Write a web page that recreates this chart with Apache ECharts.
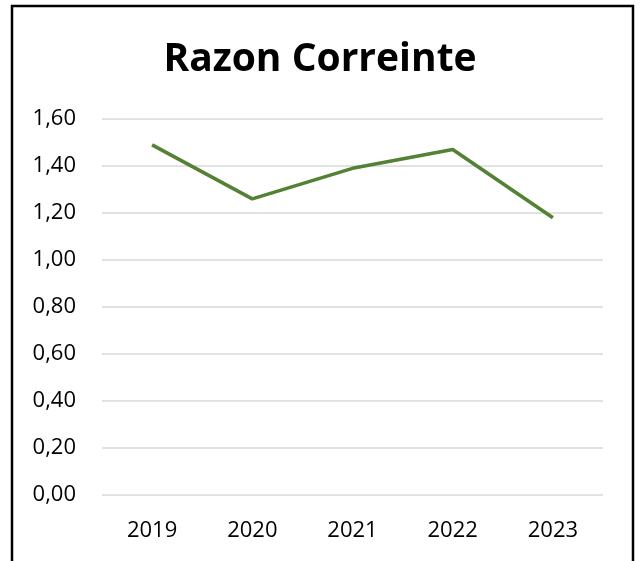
<!DOCTYPE html>
<html>
<head>
<meta charset="utf-8">
<script src="https://cdn.jsdelivr.net/npm/echarts@6/dist/echarts.min.js"></script>
<style>
html,body{margin:0;padding:0;background:#fff;}
#chart{width:640px;height:561px;}
</style>
</head>
<body>
<div id="chart"></div>
<script>
const titleText = "Razon Correinte";
const categories = ["2019", "2020", "2021", "2022", "2023"];
const values = [1.49, 1.26, 1.39, 1.47, 1.18];
const yMin = 0, yMax = 1.6, yStep = 0.2;

const chart = echarts.init(document.getElementById('chart'), null, {renderer: 'canvas'});
const font = "'Open Sans', 'Liberation Sans', sans-serif";
chart.setOption({
  backgroundColor: '#ffffff',
  animation: false,
  title: {
    text: titleText,
    left: 'center',
    top: 35,
    textStyle: {fontFamily: font, fontWeight: 'bold', fontSize: 39, color: '#000'}
  },
  graphic: [{
    type: 'rect',
    shape: {x: 12, y: 6, width: 621, height: 562},
    style: {fill: 'none', stroke: '#000', lineWidth: 2.5},
    silent: true
  }],
  grid: {left: 102, right: 37, top: 119, bottom: 66, containLabel: false},
  xAxis: {
    type: 'category',
    data: categories,
    boundaryGap: true,
    axisLine: {show: false},
    axisTick: {show: false},
    axisLabel: {fontFamily: font, fontSize: 22, color: '#000', margin: 25}
  },
  yAxis: {
    type: 'value',
    min: yMin, max: yMax, interval: yStep,
    axisLine: {show: false},
    axisTick: {show: false},
    splitLine: {lineStyle: {color: '#d9d9d9', width: 1.5}},
    axisLabel: {
      fontFamily: font, fontSize: 22, color: '#000', margin: 26,
      formatter: v => v.toFixed(2).replace('.', ',')
    }
  },
  series: [{
    type: 'line',
    data: values,
    showSymbol: false,
    symbol: 'none',
    lineStyle: {color: '#548235', width: 3.6},
    itemStyle: {color: '#548235'}
  }]
});
</script>
</body>
</html>
